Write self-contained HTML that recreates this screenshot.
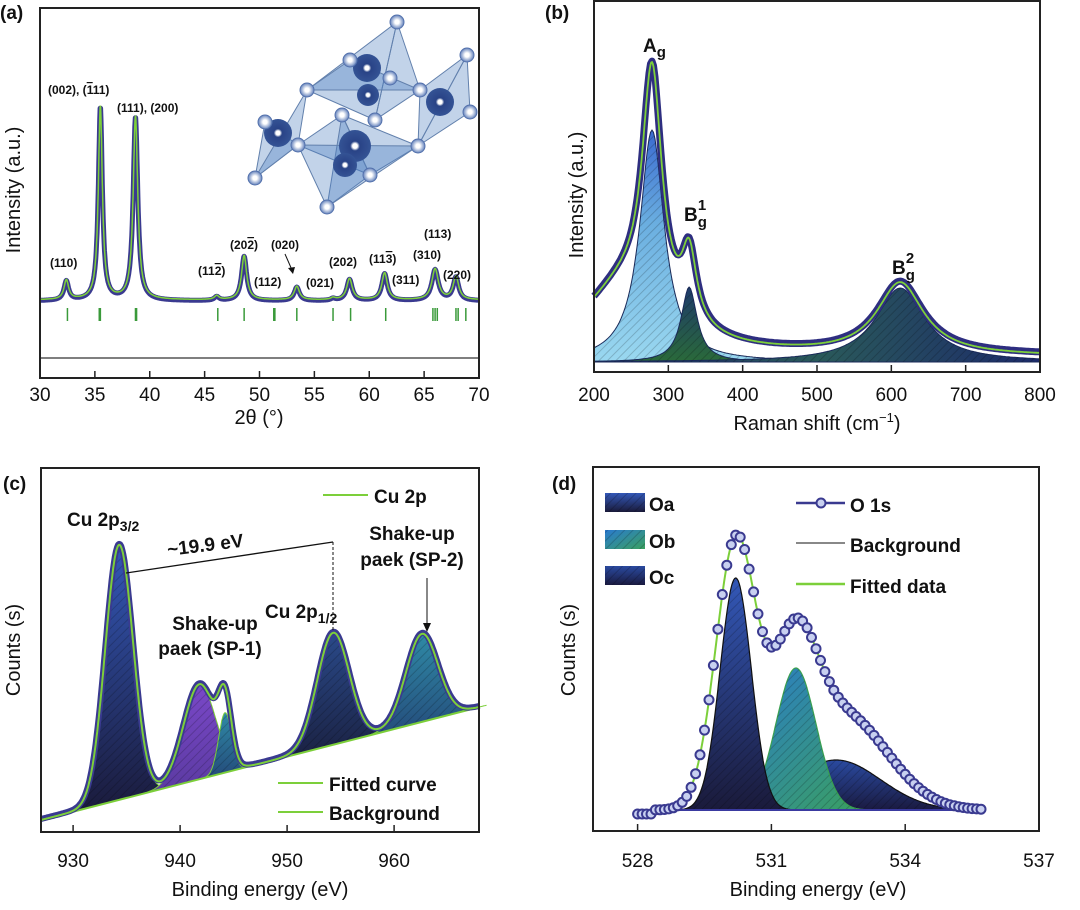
<!DOCTYPE html>
<html><head><meta charset="utf-8">
<style>
html,body{margin:0;padding:0;background:#fff;}
svg{display:block;font-family:"Liberation Sans",Arial,sans-serif;}
.tl{font-size:19px;fill:#111;}
.at{font-size:20px;fill:#111;}
.pl{font-size:19px;font-weight:bold;fill:#111;}
.hk{font-size:12px;font-weight:bold;fill:#111;}
</style></head>
<body>
<svg id="fig" width="1080" height="910" viewBox="0 0 1080 910" xmlns="http://www.w3.org/2000/svg">
<defs>
<pattern id="hatch" width="6" height="6" patternUnits="userSpaceOnUse" patternTransform="rotate(45)">
<line x1="0" y1="0" x2="0" y2="6" stroke="rgba(0,0,0,0.18)" stroke-width="2"/></pattern>
<linearGradient id="gBlue" x1="0" y1="0" x2="0" y2="1"><stop offset="0" stop-color="#3358b8"/><stop offset="1" stop-color="#1a1a3a"/></linearGradient>
<linearGradient id="gPurple" x1="0" y1="0" x2="0" y2="1"><stop offset="0" stop-color="#7a48c8"/><stop offset="1" stop-color="#5a3aa0"/></linearGradient>
<linearGradient id="gTeal" x1="0" y1="0" x2="0" y2="1"><stop offset="0" stop-color="#2f8aa6"/><stop offset="1" stop-color="#244a7a"/></linearGradient>
<linearGradient id="gNavy" x1="0" y1="0" x2="0" y2="1"><stop offset="0" stop-color="#2a4a8a"/><stop offset="1" stop-color="#1a2040"/></linearGradient>
<linearGradient id="gLight" x1="0" y1="0" x2="0" y2="1"><stop offset="0" stop-color="#3a6ad0"/><stop offset="0.4" stop-color="#6aaee0"/><stop offset="1" stop-color="#9ad8f0"/></linearGradient>
<linearGradient id="gGreen" x1="0" y1="0" x2="0" y2="1"><stop offset="0" stop-color="#1e3a6a"/><stop offset="1" stop-color="#2a6a3a"/></linearGradient>
<linearGradient id="gB2" x1="0" y1="0" x2="1" y2="0"><stop offset="0" stop-color="#1c2a6a"/><stop offset="0.5" stop-color="#2a5a5a"/><stop offset="1" stop-color="#1c2a6a"/></linearGradient>
<linearGradient id="gOb" x1="0" y1="0" x2="1" y2="1"><stop offset="0" stop-color="#2a7ad0"/><stop offset="1" stop-color="#3aa060"/></linearGradient>
<linearGradient id="gOc" x1="0" y1="0" x2="0" y2="1"><stop offset="0" stop-color="#2a4aa0"/><stop offset="1" stop-color="#1a1a40"/></linearGradient>
<radialGradient id="sphS" cx="0.5" cy="0.5" r="0.5"><stop offset="0.3" stop-color="#ffffff"/><stop offset="1" stop-color="#5a7ab8"/></radialGradient>
<radialGradient id="sphB" cx="0.5" cy="0.5" r="0.5"><stop offset="0.15" stop-color="#ffffff"/><stop offset="0.3" stop-color="#1e3a80"/><stop offset="1" stop-color="#2a4a90"/></radialGradient>
</defs>
<g id="root"></g>
</svg>
<script>
// ---------- Panel (a) XRD data ----------
const xrdTicks=[30,35,40,45,50,55,60,65,70];
const xrdPeakPos=[32.4,35.5,38.7,46.1,48.6,53.4,56.7,58.2,61.4,66.0,67.9];
const xrdPeakInt=[10,100,95,2,23,7,1,11,14,16,12];
const xrdPeakWidth=[0.25,0.22,0.25,0.25,0.28,0.28,0.25,0.3,0.3,0.35,0.3];
const xrdRefPos=[32.5,35.4,35.5,38.7,38.8,46.2,48.6,51.3,51.4,53.4,56.7,58.3,61.5,65.8,66.0,66.2,67.9,68.1,68.8];
// ---------- Panel (b) Raman data ----------
const ramanTicks=[200,300,400,500,600,700,800];
const ramanTotalPos=[278,240,328,612];
const ramanTotalHeight=[240,65,70,72];
const ramanTotalWidth=[16,70,12,38];
const ramanCompPos=[278,328,612];
const ramanCompHeight=[232,75,74];
const ramanCompWidth=[20,13,40];
// ---------- Panel (c) Cu 2p XPS data ----------
const cuTicks=[930,940,950,960];
const cuBgX=[927,968];
const cuBgY=[0,113];
const cuPeakPos=[934.3,941.8,944.2,954.3,962.6];
const cuPeakHeight=[255,95,60,112,88];
const cuPeakSigma=[1.3,1.5,0.6,1.5,1.5];
// ---------- Panel (d) O 1s XPS data ----------
const oTicks=[528,531,534,537];
const oTotalPos=[530.2,531.5,532.6];
const oTotalHeight=[265,135,95];
const oTotalSigma=[0.45,0.5,1.0];
const oCompPos=[530.2,531.55,532.45];
const oCompHeight=[232,142,50];
const oCompSigma=[0.35,0.45,1.0];

const NS='http://www.w3.org/2000/svg';
const root=document.getElementById('root');
function mk(tag,attrs,parent,text){const e=document.createElementNS(NS,tag);for(const k in attrs)e.setAttribute(k,attrs[k]);if(text!==undefined)e.textContent=text;(parent||root).appendChild(e);return e;}
function lor(x,c,h,w){return h/(1+((x-c)/w)**2);}
function gau(x,c,h,s){return h*Math.exp(-((x-c)**2)/(2*s*s));}
function pathFrom(x0,x1,step,fx,fy,f){let d='';for(let v=x0;v<=x1+1e-9;v+=step){d+=(d?'L':'M')+fx(v).toFixed(1)+','+fy(f(v)).toFixed(1);}return d;}

function frame(g,x0,y0,x1,y1,name){const r=mk('rect',{x:x0,y:y0,width:x1-x0,height:y1-y0,fill:'none',stroke:'#222','stroke-width':2},g);}
function xAxis(g,ticks,fx,yb,labelY,name){const ga=mk('g',{},g);
 ticks.forEach(t=>{const X=fx(t);mk('line',{x1:X,y1:yb,x2:X,y2:yb-7,stroke:'#222','stroke-width':1.5},ga);
 const l=mk('text',{x:X,y:labelY,'text-anchor':'middle',class:'tl'},ga,String(t));});}
function text(g,x,y,cls,str,name,extra){const t=mk('text',Object.assign({x:x,y:y,class:cls},extra||{}),g,str);return t;}
function yTitle(g,x,y,str){const t=mk('text',{x:x,y:y,class:'at','text-anchor':'middle',transform:`rotate(-90 ${x} ${y})`},g,str);}

// ===== Panel A =====
(function(){
 const g=mk('g',{});
 const fx=v=>40+(v-30)/40*439, fy=v=>300-v*1.93;
 const total=x=>{let s=0;xrdPeakPos.forEach((c,i)=>s+=lor(x,c,xrdPeakInt[i],xrdPeakWidth[i]));return s;};
 const ci=mk('g',{opacity:0.95},g);
 const tris=[[[397,22],[307,90],[375,120]],[[397,22],[420,90],[375,120]],[[350,60],[307,90],[420,90]],[[467,55],[420,90],[418,146]],[[467,55],[470,112],[418,146]],[[265,122],[298,145],[255,178]],[[307,90],[255,178],[298,145]],[[342,115],[298,145],[370,175]],[[342,115],[418,146],[370,175]],[[342,115],[327,207],[370,175]],[[298,145],[418,146],[327,207]]];
 tris.forEach(t=>mk('polygon',{points:t.map(p=>p.join(',')).join(' '),fill:'rgba(70,120,190,0.35)',stroke:'#5a7aa8','stroke-width':1},ci));
 [[367,68,14],[368,95,11],[440,102,14],[278,133,14],[355,146,16],[345,165,12]].forEach(s=>mk('circle',{cx:s[0],cy:s[1],r:s[2],fill:'url(#sphB)'},ci));
 [[397,22],[350,60],[390,78],[307,90],[420,90],[467,55],[470,112],[342,115],[375,120],[265,122],[298,145],[418,146],[370,175],[255,178],[327,207]].forEach(s=>mk('circle',{cx:s[0],cy:s[1],r:7,fill:'url(#sphS)',stroke:'#4a6aa8','stroke-width':1},ci));
 const obs=mk('path',{d:pathFrom(30,70,0.04,fx,v=>fy(v)+1,total),fill:'none',stroke:'#3a3a90','stroke-width':5,'stroke-linejoin':'round'},g);
 const fit=mk('path',{d:pathFrom(30,70,0.02,fx,fy,total),fill:'none',stroke:'#7ccf3a','stroke-width':1.5},g);
 xrdRefPos.forEach(p=>{const l=mk('line',{x1:fx(p),y1:308,x2:fx(p),y2:321,stroke:'#3a9a3a','stroke-width':1.5},g);});
 const diff=mk('path',{d:pathFrom(30,70,0.1,fx,v=>358,v=>0),fill:'none',stroke:'#333','stroke-width':1.3},g);
 frame(g,40,8,479,378,'plot-frame-a');
 xAxis(g,xrdTicks,fx,378,401,'x-axis-a');
 text(g,259,424,'at','2θ (°)','x-axis-title',{'text-anchor':'middle'});
 yTitle(g,20,190,'Intensity (a.u.)');
 text(g,0,19,'pl','(a)','panel-label-a');
 const H=[[48,94,'(002), (<tspan text-decoration="overline">1</tspan>11)'],[117,112,'(111), (200)'],[50,267,'(110)'],[198,275,'(11<tspan text-decoration="overline">2</tspan>)'],[230,249,'(20<tspan text-decoration="overline">2</tspan>)'],[271,249,'(020)'],[254,286,'(112)'],[306,287,'(021)'],[329,266,'(202)'],[369,263,'(11<tspan text-decoration="overline">3</tspan>)'],[392,284,'(311)'],[413,259,'(310)'],[424,238,'(113)'],[443,279,'(220)']];
 H.forEach(h=>{const t=mk('text',{x:h[0],y:h[1],class:'hk'},g);t.innerHTML=h[2];});
 mk('line',{x1:285,y1:254,x2:292,y2:270,stroke:'#111','stroke-width':1},g);
 mk('polygon',{points:'293,274 288,268 295,267',fill:'#111'},g);
})();

// ===== Panel B =====
(function(){
 const g=mk('g',{});
 const fx=v=>594+(v-200)*446/600, fy=v=>357-v;
 const total=x=>{let s=0;ramanTotalPos.forEach((c,i)=>s+=lor(x,c,ramanTotalHeight[i],ramanTotalWidth[i]));return s;};
 const fills=['url(#gLight)','url(#gGreen)','url(#gB2)'];
 ramanCompPos.forEach((c,i)=>{const f=x=>lor(x,c,ramanCompHeight[i],ramanCompWidth[i])-5;
  const d=pathFrom(200,800,2,fx,fy,f)+'L'+fx(800)+','+fy(-5)+'L'+fx(200)+','+fy(-5)+'Z';
  const p=mk('path',{d:d,fill:fills[i],stroke:'#1a2a5a','stroke-width':1},g);
  mk('path',{d:d,fill:'url(#hatch)'},g);});
 const obs=mk('path',{d:pathFrom(200,800,2,fx,v=>fy(v)-1,total),fill:'none',stroke:'#2e2e80','stroke-width':7,'stroke-linejoin':'round'},g);
 const fit=mk('path',{d:pathFrom(200,800,1,fx,fy,total),fill:'none',stroke:'#7ccf3a','stroke-width':1.8},g);
 frame(g,594,1,1040,372,'plot-frame-b');
 xAxis(g,ramanTicks,fx,372,401,'x-axis-b');
 const xt=text(g,817,430,'at','','x-axis-title',{'text-anchor':'middle'});xt.innerHTML='Raman shift (cm<tspan dy="-8" font-size="13">−1</tspan><tspan dy="8">)</tspan>';
 yTitle(g,583,195,'Intensity (a.u.)');
 text(g,545,19,'pl','(b)','panel-label-b');
 const a=text(g,643,52,'pl','','peak-label-ag',{'font-size':'21'});a.innerHTML='A<tspan dy="5" font-size="15">g</tspan>';
 const b1=text(g,684,221,'pl','','peak-label-bg1',{'font-size':'21'});b1.innerHTML='B<tspan dy="6" font-size="15">g</tspan><tspan dx="-9" dy="-17" font-size="15">1</tspan>';
 const b2=text(g,892,274,'pl','','peak-label-bg2',{'font-size':'21'});b2.innerHTML='B<tspan dy="6" font-size="15">g</tspan><tspan dx="-9" dy="-17" font-size="15">2</tspan>';
})();

// ===== Panel C =====
(function(){
 const g=mk('g',{});
 const fx=v=>41+(v-927)*10.7;
 const bg=v=>cuBgY[0]+(v-cuBgX[0])*(cuBgY[1]-cuBgY[0])/(cuBgX[1]-cuBgX[0]);
 const fy=v=>820-v;
 const total=x=>{let s=bg(x);cuPeakPos.forEach((c,i)=>s+=gau(x,c,cuPeakHeight[i],cuPeakSigma[i]));return s;};
 const fills=['url(#gBlue)','url(#gPurple)','url(#gTeal)','url(#gNavy)','url(#gTeal)'];
 cuPeakPos.forEach((c,i)=>{const lo=c-4*cuPeakSigma[i],hi=c+4*cuPeakSigma[i];
  const d=pathFrom(lo,hi,0.1,fx,fy,x=>bg(x)+gau(x,c,cuPeakHeight[i],cuPeakSigma[i]))+'L'+fx(hi)+','+fy(bg(hi))+'L'+fx(lo)+','+fy(bg(lo))+'Z';
  const p=mk('path',{d:d,fill:fills[i],stroke:'#7ccf3a','stroke-width':1},g);
  mk('path',{d:d,fill:'url(#hatch)'},g);});
 const bl=mk('line',{x1:fx(cuBgX[0]),y1:fy(cuBgY[0]),x2:fx(cuBgX[1]),y2:fy(cuBgY[1]),stroke:'#7ccf3a','stroke-width':2},g);
 const obs=mk('path',{d:pathFrom(927,968,0.1,fx,v=>fy(v)-1,total),fill:'none',stroke:'#3a3a90','stroke-width':6,'stroke-linejoin':'round'},g);
 const fit=mk('path',{d:pathFrom(927,968,0.05,fx,fy,total),fill:'none',stroke:'#7ccf3a','stroke-width':2},g);
 frame(g,41,468,479,832,'plot-frame-c');
 xAxis(g,cuTicks,fx,832,867,'x-axis-c');
 text(g,260,896,'at','Binding energy (eV)','x-axis-title',{'text-anchor':'middle'});
 yTitle(g,20,650,'Counts (s)');
 text(g,3,490,'pl','(c)','panel-label-c');
 const t1=text(g,67,526,'pl','','cu2p32-label',{fill:'#3a3a78','font-size':'20'});t1.innerHTML='Cu 2p<tspan dy="5" font-size="14">3/2</tspan>';
 const t2=text(g,265,618,'pl','','cu2p12-label',{fill:'#3a3a78','font-size':'20'});t2.innerHTML='Cu 2p<tspan dy="5" font-size="14">1/2</tspan>';
 mk('line',{x1:126,y1:573,x2:333,y2:542,stroke:'#111','stroke-width':1.3},g);
 mk('line',{x1:333,y1:542,x2:333,y2:632,stroke:'#111','stroke-width':1,'stroke-dasharray':'3,2'},g);
 text(g,168,556,'pl','~19.9 eV','splitting-label',{'font-size':'19',transform:'rotate(-7 168 556)'});
 text(g,215,630,'pl','Shake-up','sp1-label',{'text-anchor':'middle',fill:'#3a9a4a','font-size':'17'});
 text(g,210,655,'pl','paek (SP-1)','sp1-label-2',{'text-anchor':'middle',fill:'#3a9a4a','font-size':'17'});
 text(g,412,540,'pl','Shake-up','sp2-label',{'text-anchor':'middle',fill:'#3a9a4a','font-size':'17'});
 text(g,412,566,'pl','paek (SP-2)','sp2-label-2',{'text-anchor':'middle',fill:'#3a9a4a','font-size':'17'});
 mk('line',{x1:427,y1:578,x2:427,y2:625,stroke:'#111','stroke-width':1},g);
 mk('polygon',{points:'427,632 423,623 431,623',fill:'#111'},g);
 [[323,495,'Cu 2p'],[278,783,'Fitted curve'],[278,812,'Background']].forEach((L,i)=>{const lg=mk('g',{},g);
  mk('line',{x1:L[0],y1:L[1],x2:L[0]+45,y2:L[1],stroke:'#7ccf3a','stroke-width':2},lg);
  mk('text',{x:L[0]+51,y:L[1]+8,class:'pl','font-size':'19'},lg,L[2]);});
})();

// ===== Panel D =====
(function(){
 const g=mk('g',{});
 const fx=v=>593+(v-527)*44.6, fy=v=>810-v;
 const total=x=>{let s=0;oTotalPos.forEach((c,i)=>s+=gau(x,c,oTotalHeight[i],oTotalSigma[i]));return s;};
 const fills=['url(#gBlue)','url(#gOb)','url(#gOc)'];
 const order=[2,1,0];
 order.forEach(i=>{const c=oCompPos[i];const lo=Math.max(528.1,c-3.5*oCompSigma[i]),hi=Math.min(535.7,c+3.5*oCompSigma[i]);
  const d=pathFrom(lo,hi,0.02,fx,fy,x=>gau(x,c,oCompHeight[i],oCompSigma[i]))+'L'+fx(hi)+','+fy(0)+'L'+fx(lo)+','+fy(0)+'Z';
  const p=mk('path',{d:d,fill:fills[i],stroke:i==1?'#3aa050':'#111','stroke-width':1.2},g);
  mk('path',{d:d,fill:'url(#hatch)'},g);});
 const bl=mk('line',{x1:fx(528.1),y1:fy(0),x2:fx(535.7),y2:fy(0),stroke:'#3a3aa0','stroke-width':2},g);
 const fit=mk('path',{d:pathFrom(528,535.7,0.02,fx,fy,total),fill:'none',stroke:'#7ccf3a','stroke-width':2},g);
 for(let v=528;v<=535.7001;v+=0.1){const c=mk('circle',{cx:fx(v).toFixed(1),cy:fy(total(v)+(v<528.4?-4:0)).toFixed(1),r:4.5,fill:'#c8d0f0',stroke:'#3a3a90','stroke-width':2},g);}
 frame(g,593,467,1039,831,'plot-frame-d');
 xAxis(g,oTicks,fx,831,867,'x-axis-d');
 text(g,818,896,'at','Binding energy (eV)','x-axis-title',{'text-anchor':'middle'});
 yTitle(g,575,650,'Counts (s)');
 text(g,552,490,'pl','(d)','panel-label-d');
 [['Oa','url(#gBlue)',493],['Ob','url(#gOb)',530],['Oc','url(#gOc)',566]].forEach(L=>{const lg=mk('g',{},g);
  mk('rect',{x:605,y:L[2],width:40,height:19,fill:L[1]},lg);mk('rect',{x:605,y:L[2],width:40,height:19,fill:'url(#hatch)'},lg);
  mk('text',{x:649,y:L[2]+18,class:'pl','font-size':'21'},lg,L[0]);});
 const l1=mk('g',{},g);
 mk('line',{x1:796,y1:503,x2:845,y2:503,stroke:'#3a3a90','stroke-width':2.5},l1);mk('circle',{cx:821,cy:503,r:4.5,fill:'#c8d0f0',stroke:'#3a3a90','stroke-width':2},l1);
 mk('text',{x:850,y:512,class:'pl','font-size':'21'},l1,'O 1s');
 const l2=mk('g',{},g);
 mk('line',{x1:796,y1:543,x2:845,y2:543,stroke:'#888','stroke-width':2},l2);mk('text',{x:850,y:552,class:'pl','font-size':'21'},l2,'Background');
 const l3=mk('g',{},g);
 mk('line',{x1:796,y1:584,x2:845,y2:584,stroke:'#7ccf3a','stroke-width':2.5},l3);mk('text',{x:850,y:593,class:'pl','font-size':'21'},l3,'Fitted data');
})();
</script>
</body></html>
